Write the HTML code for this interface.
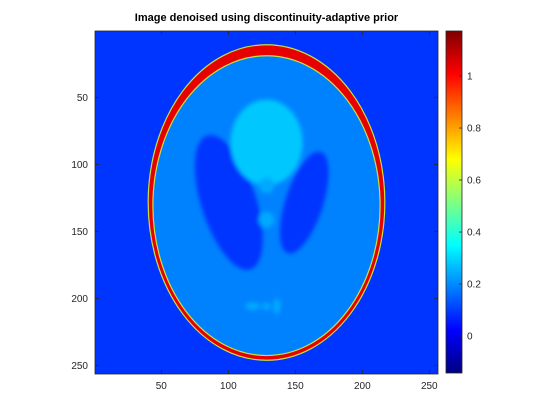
<!DOCTYPE html>
<html><head><meta charset="utf-8"><style>
body{margin:0;background:#fff;}
svg{display:block;font-family:"Liberation Sans",sans-serif;}
</style></head><body>
<svg id="c" width="560" height="420" viewBox="0 0 560 420"></svg>
<script>
// phantom ellipses (apparent levels): amplitude, semi-axis a, semi-axis b, x0, y0, angle(deg)
const amps=[0.95,-0.85,-0.1,-0.1,0.09,0.05,0.05,0.05,0.05,0.05];
const semiA=[0.69,0.6624,0.11,0.16,0.21,0.046,0.046,0.046,0.023,0.023];
const semiB=[0.92,0.874,0.31,0.41,0.25,0.046,0.046,0.023,0.023,0.046];
const centerX=[0,0,0.22,-0.22,0,0,0,-0.08,0,0.06];
const centerY=[0,-0.0184,0,0,0.35,0.1,-0.1,-0.605,-0.606,-0.605];
const angles=[0,0,-18,18,0,0,0,0,0,0];
const background=0.09;
const xTicks=[50,100,150,200,250];
const yTicks=[50,100,150,200,250];
const cbTicks=[0,0.2,0.4,0.6,0.8,1];
const cbTickLabels=["0","0.2","0.4","0.6","0.8","1"];
const clim=[-0.142,1.173];

const NS="http://www.w3.org/2000/svg";
const svg=document.getElementById('c');
function el(t,a,p){const e=document.createElementNS(NS,t);for(const k in a)e.setAttribute(k,a[k]);(p||svg).appendChild(e);return e;}
const L=95,T=31,W=343,H=343,N=256,s=W/N;
const cx=L+W/2,cy=T+H/2,R=128*s;
function px(v){return L+(v-0.5)*s;}
function py(v){return T+(v-0.5)*s;}
function jet(v){
  let t=(v-clim[0])/(clim[1]-clim[0]);t=Math.max(0,Math.min(1,t));
  const f=x=>Math.max(0,Math.min(1,x));
  const r=f(1.5-Math.abs(4*t-3)),g=f(1.5-Math.abs(4*t-2)),b=f(1.5-Math.abs(4*t-1));
  return `rgb(${Math.round(r*255)},${Math.round(g*255)},${Math.round(b*255)})`;
}
const defs=el('defs',{});
const cp=el('clipPath',{id:'ax'},defs);
el('rect',{x:L,y:T,width:W,height:H},cp);
const fl=el('filter',{id:'blur',x:'-20%',y:'-20%',width:'140%',height:'140%'},defs);
el('feGaussianBlur',{stdDeviation:2.2},fl);
const g=el('g',{'clip-path':'url(#ax)'});


const bg=el('rect',{x:L,y:T,width:W,height:H,fill:jet(background)},g);


const cum=[];
for(let i=0;i<amps.length;i++){
  let v=background+amps[0];
  if(i===1)v=background+amps[0]+amps[1];
  else if(i>=2)v=background+amps[0]+amps[1]+amps[i];
  cum.push(v);
}
const inner=el('g',{filter:'url(#blur)'},g);
for(let i=0;i<amps.length;i++){
  const ex=cx+centerX[i]*R,ey=cy-centerY[i]*R;
  const attrs={cx:ex,cy:ey,rx:semiA[i]*R,ry:semiB[i]*R,fill:jet(cum[i]),transform:`rotate(${-angles[i]} ${ex} ${ey})`};
  if(i<2){attrs.stroke='#c8e040';attrs['stroke-width']=1.2;}
  const e=el('ellipse',attrs,i<2?g:inner);
  
  
  if(i===1){g.appendChild(inner);}
}
const box=el('rect',{x:L,y:T,width:W,height:H,fill:'none',stroke:'#262626','stroke-width':0.8});


xTicks.forEach(v=>{
  const x=px(v);
  el('line',{x1:x,y1:T+H,x2:x,y2:T+H-4,stroke:'#262626','stroke-width':0.8});
  el('line',{x1:x,y1:T,x2:x,y2:T+4,stroke:'#262626','stroke-width':0.8});
  const t=el('text',{x:x,y:T+H+15,'font-size':10,'text-anchor':'middle',fill:'#262626'});
  t.textContent=v;
  
  
});
yTicks.forEach(v=>{
  const y=py(v);
  el('line',{x1:L,y1:y,x2:L+4,y2:y,stroke:'#262626','stroke-width':0.8});
  el('line',{x1:L+W,y1:y,x2:L+W-4,y2:y,stroke:'#262626','stroke-width':0.8});
  const t=el('text',{x:L-7,y:y+3.5,'font-size':10,'text-anchor':'end',fill:'#262626'});
  t.textContent=v;
  
  
});
const title=el('text',{x:cx,y:21,'font-size':11,'font-weight':'bold','text-anchor':'middle',fill:'#000'});
title.textContent='Image denoised using discontinuity-adaptive prior';


const CX=446,CW=16,CT=31,CB=373;
const lg=el('linearGradient',{id:'jet',x1:0,y1:1,x2:0,y2:0},defs);
[[0,'#000080'],[0.125,'#0000ff'],[0.375,'#00ffff'],[0.625,'#ffff00'],[0.875,'#ff0000'],[1,'#800000']].forEach(st=>el('stop',{offset:st[0],'stop-color':st[1]},lg));
const cb=el('rect',{x:CX,y:CT,width:CW,height:CB-CT,fill:'url(#jet)',stroke:'#262626','stroke-width':0.8});


function cbY(v){return CB-(v-clim[0])/(clim[1]-clim[0])*(CB-CT);}
cbTicks.forEach((v,i)=>{
  const y=cbY(v);
  el('line',{x1:CX+CW,y1:y,x2:CX+CW-3,y2:y,stroke:'#262626','stroke-width':0.8});
  const t=el('text',{x:CX+CW+5,y:y+3.5,'font-size':10,fill:'#262626'});
  t.textContent=cbTickLabels[i];
  
  
});
</script>
</body></html>
